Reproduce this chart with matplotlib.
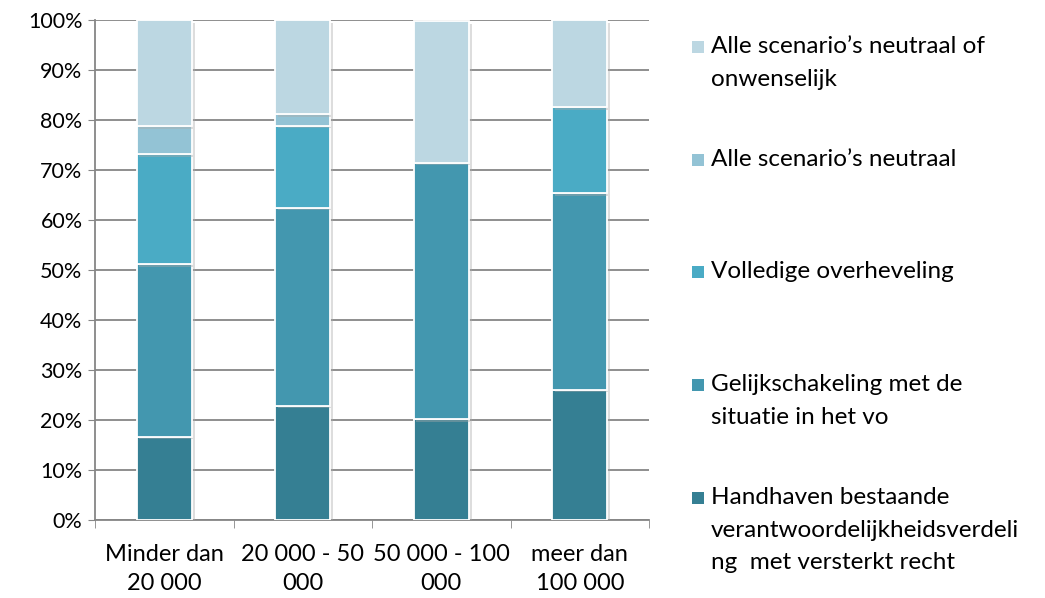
import matplotlib.pyplot as plt
from matplotlib.patches import Rectangle
import matplotlib.patheffects as pe
import numpy as np

plt.rcParams['font.family'] = ['Lato', 'DejaVu Sans']

categories = ["Minder dan\n20 000", "20 000 - 50\n000", "50 000 - 100\n000", "meer dan\n100 000"]
series_names = [
    "Handhaven bestaande\nverantwoordelijkheidsverdeli\nng  met versterkt recht",
    "Gelijkschakeling met de\nsituatie in het vo",
    "Volledige overheveling",
    "Alle scenario\u2019s neutraal",
    "Alle scenario\u2019s neutraal of\nonwenselijk",
]
handhaven = [16.7, 22.9, 20.2, 26.1]
gelijk = [34.5, 39.6, 51.3, 39.2]
volledig = [22.0, 16.4, 0.0, 17.3]
neutraal = [5.6, 2.3, 0.0, 0.0]
onwenselijk = [21.2, 18.8, 28.3, 17.4]
colors = ["#357f93", "#4397af", "#4aabc5", "#93c3d5", "#bcd7e2"]

values = [handhaven, gelijk, volledig, neutraal, onwenselijk]

fig = plt.figure(figsize=(10.45, 5.98), dpi=100)
ax = fig.add_axes([95 / 1045, 78 / 598, 554 / 1045, 500 / 598])

x = np.arange(len(categories))
bottom = np.zeros(len(categories))
shadow = [pe.SimplePatchShadow(offset=(2, -2), shadow_rgbFace="#aaaaaa", alpha=0.4), pe.Normal()]
for vals, col in zip(values, colors):
    bars = ax.bar(x, vals, 0.4, bottom=bottom, color=col, edgecolor="white", linewidth=1.3, zorder=3)
    for b in bars:
        if b.get_height() > 0:
            b.set_path_effects(shadow)
    bottom += np.array(vals)

ax.set_xlim(-0.5, len(categories) - 0.5)
ax.set_ylim(0, 100)
ax.set_yticks(np.arange(0, 101, 10))
ax.set_yticklabels([f"{v}%" for v in range(0, 101, 10)], fontsize=15.5)
ax.yaxis.grid(True, color="#868686", linewidth=1.3, zorder=0)
ax.tick_params(axis="y", length=5, color="#868686", pad=4)

ax.set_xticks(x)
ax.set_xticklabels(categories, fontsize=17, linespacing=1.5)
ax.tick_params(axis="x", length=0, pad=17)
ax.set_xticks(np.arange(-0.5, len(categories), 1), minor=True)
ax.tick_params(axis="x", which="minor", length=6, color="#868686")

for s in ["top", "right"]:
    ax.spines[s].set_visible(False)
for s in ["left", "bottom"]:
    ax.spines[s].set_color("#868686")
    ax.spines[s].set_linewidth(1.3)

# legend, drawn top to bottom in reverse series order
leg_y = [47, 160, 272, 385, 498]
for i, (name, col) in enumerate(zip(series_names[::-1], colors[::-1])):
    y = leg_y[i]
    fig.patches.append(Rectangle((692 / 1045, 1 - (y + 6) / 598), 12 / 1045, 12 / 598,
                                 transform=fig.transFigure, facecolor=col, edgecolor="none"))
    fig.text(711 / 1045, 1 - (y - 11) / 598, name, fontsize=17.5, va="top", ha="left", linespacing=1.68)

plt.savefig("out.png")
